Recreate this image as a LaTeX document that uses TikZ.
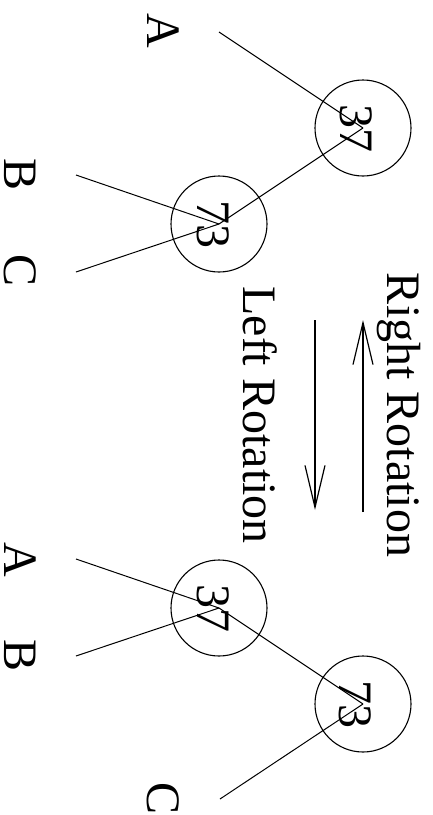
\documentclass[tikz,border=0pt]{standalone}
\usepackage{fontspec}
\setmainfont{Liberation Serif}
\usetikzlibrary{arrows.meta}

\tikzset{
	key/.style={draw,circle,minimum size=96pt,inner sep=0pt,line width=1.1pt},
	keytext/.style={rotate=-90,anchor=base,inner sep=0pt,font=\fontsize{48}{58}\selectfont},
	edge/.style={line width=1pt},
}

\begin{document}
\begin{tikzpicture}[x=1pt,y=-1pt,>={Straight Barb[length=42pt,width=20pt]}]
			
			\useasboundingbox (0,0) rectangle (432,815);
			
			% upper tree: 37 on top, 73 as its child
			\node[key] (topr) at (363,128){};
			\node[key] (topc) at (219,224){};
			\node[keytext] (toprtext) at ([xshift=-23pt]topr.center){37};
			\node[keytext] (topctext) at ([xshift=-22pt]topc.center){73};
			
			\coordinate (topa) at (219,32);
			\coordinate (topb) at (76,175);
			\coordinate (topcc) at (76,272);
			\node[keytext] (topalabel) at (147,31){A};
			\node[keytext] (topblabel) at (5,175){B};
			\node[keytext] (topclabel) at (5,271){C};
			
			\draw[edge](topa)--(topr.center);
			\draw[edge](topr.center)--(topc.center);
			\draw[edge](topb)--(topc.center);
			\draw[edge](topcc)--(topc.center);
			
			% the two rotations
			\coordinate (rightstart) at (363,512);
			\coordinate (rightend) at (363,320);
			\coordinate (leftstart) at (315,320);
			\coordinate (leftend) at (315,510);
			\draw[->,edge,line width=1.2pt](rightstart)--(rightend);
			\draw[->,edge,line width=1.2pt](leftstart)--(leftend);
			\node[keytext] (rightlabel) at (387,415){Right Rotation};
			\node[keytext] (leftlabel) at (243,415){Left Rotation};
			
			% lower tree: 73 on top, 37 as its child
			\node[key] (botr) at (363,704){};
			\node[key] (botc) at (219,608){};
			\node[keytext] (botrtext) at ([xshift=-24pt]botr.center){73};
			\node[keytext] (botctext) at ([xshift=-22pt]botc.center){37};
			
			\coordinate (bota) at (76,559);
			\coordinate (botb) at (76,656);
			\coordinate (botcc) at (220,799);
			\node[keytext] (botalabel) at (5,560){A};
			\node[keytext] (botblabel) at (5,655){B};
			\node[keytext] (botclabel) at (147,798){C};
			
			\draw[edge](bota)--(botc.center);
			\draw[edge](botb)--(botc.center);
			\draw[edge](botc.center)--(botr.center);
			\draw[edge](botcc)--(botr.center);
			
\end{tikzpicture}
\end{document}
